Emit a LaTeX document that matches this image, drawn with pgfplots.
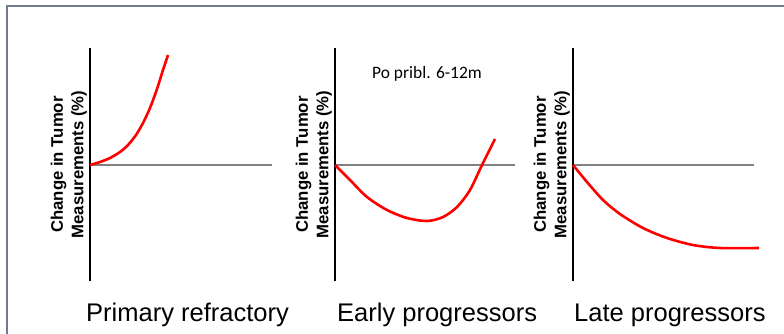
\documentclass[border=0pt]{standalone}
\usepackage{pgfplots}
\pgfplotsset{compat=1.18}
\usepackage{fontspec}
\setmainfont{Liberation Sans}
\newfontfamily\carlito{Carlito}
\definecolor{framecol}{RGB}{112,122,140}
\definecolor{axisgray}{RGB}{128,128,128}

\pgfplotsset{
  tumor/.style={
    scale only axis, height=233bp,
    axis lines=middle, axis line style={-},
    x axis line style={axisgray, line width=1.5bp},
    y axis line style={black, line width=1.2bp},
    xtick=\empty, ytick=\empty,
    xmin=0, ymin=-116, ymax=117,
    clip=false,
    every axis y label/.style={at={(axis description cs:0,0.5)}, rotate=90,
      anchor=south, align=center, inner sep=3bp,
      font=\fontsize{16.8}{20.5}\selectfont\bfseries},
    ylabel={Change in Tumor\\Measurements (\%)},
  },
  curve/.style={red, line width=2.6bp, smooth},
}

\begin{document}
\begin{tikzpicture}
\useasboundingbox (0,0) rectangle (784bp,-334bp);
\draw[framecol, line width=1.3bp] (784bp,-6bp) -- (7bp,-6bp) -- (7bp,-334bp);

% Primary refractory
\begin{axis}[tumor, width=182bp, xmax=182, at={(90bp,-281bp)}, anchor=south west]
\addplot[curve] coordinates {(0,0) (10,3) (20,7) (30,13) (38,20) (46,30) (53,42) (60,57) (67,76) (73,95) (78,110)};
\end{axis}

% Early progressors
\begin{axis}[tumor, width=180bp, xmax=180, at={(335bp,-281bp)}, anchor=south west]
\addplot[curve] coordinates {(0,0) (15,-15) (32,-32) (52,-45) (72,-53) (92,-56) (108,-52) (122,-42) (135,-25) (147,0) (160,26)};
\end{axis}

% Late progressors
\begin{axis}[tumor, width=181bp, xmax=181, at={(573bp,-281bp)}, anchor=south west]
\addplot[curve] coordinates {(0,0) (14,-17) (30,-35) (47,-49) (70,-63) (94,-73) (120,-80) (147,-83) (186,-83)};
\end{axis}

\node[anchor=base west, inner sep=0, font=\carlito\fontsize{17.5}{20}\selectfont] at (372bp,-78bp) {Po pribl. 6-12m};
\begin{scope}[every node/.style={anchor=base west, inner sep=0, font=\fontsize{25.6}{30}\selectfont}]
\node at (86bp,-321bp) {Primary refractory};
\node at (337bp,-321bp) {Early progressors};
\node at (574bp,-321bp) {Late progressors};
\end{scope}
\end{tikzpicture}
\end{document}
